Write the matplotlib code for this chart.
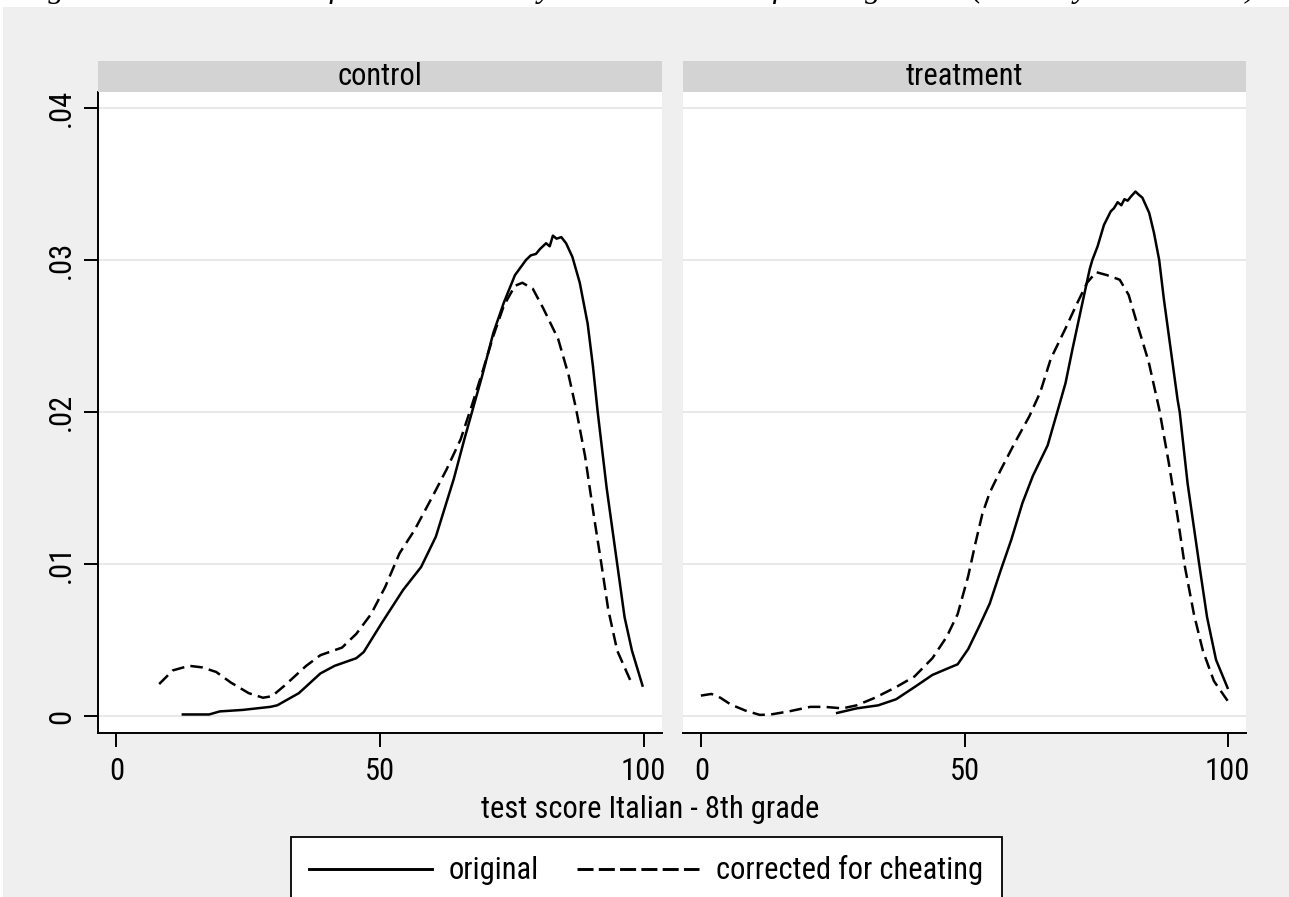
import numpy as np
import matplotlib.pyplot as plt
import matplotlib.patches as mpatches
from matplotlib.lines import Line2D
from matplotlib import font_manager

# Stata look: narrow sans if we have one
installed = {f.name for f in font_manager.fontManager.ttflist}
if 'Liberation Sans Narrow' in installed:
    FONT, FS = 'Liberation Sans Narrow', 23
elif 'Roboto Condensed' in installed:
    FONT, FS = 'Roboto Condensed', 22
else:
    FONT, FS = 'Liberation Sans', 19.5
plt.rcParams['font.family'] = [FONT, 'DejaVu Sans']

# values (density of test score)
panels = ['control', 'treatment']

ctrl_orig_x = [12.6, 17.6, 19.6, 24.0, 29.2, 30.5, 34.6, 38.7, 41.4, 45.5, 46.9, 50.3, 54.4, 57.8,
               60.6, 64.0, 66.0, 68.1, 69.4, 71.5, 73.5, 75.6, 77.7, 78.6, 79.6, 80.3, 81.5, 82.2,
               82.8, 83.5, 84.4, 85.3, 86.5, 87.9, 89.4, 90.4, 91.3, 93.0, 95.0, 96.4, 97.8, 99.8]
ctrl_orig_y = [0.0001, 0.0001, 0.0003, 0.0004, 0.0006, 0.0007, 0.0015, 0.0028, 0.0033, 0.0038,
               0.0042, 0.0061, 0.0083, 0.0098, 0.0118, 0.0156, 0.0182, 0.0208, 0.0224, 0.0252,
               0.0272, 0.0290, 0.0300, 0.0303, 0.0304, 0.0307, 0.0311, 0.0309, 0.0316, 0.0314,
               0.0315, 0.0311, 0.0302, 0.0285, 0.0258, 0.0230, 0.0200, 0.0150, 0.0100, 0.0065,
               0.0043, 0.0020]

ctrl_corr_x = [8.1, 10.7, 13.8, 16.2, 18.9, 21.7, 25.1, 27.8, 29.5, 31.9, 36.0, 38.7, 42.8, 45.5,
               48.3, 51.0, 53.7, 56.5, 59.9, 62.6, 65.3, 67.4, 69.4, 71.5, 73.5, 75.6, 77.0, 79.0,
               81.0, 83.8, 85.8, 87.2, 88.9, 90.6, 92.0, 93.3, 95.0, 97.8]
ctrl_corr_y = [0.0021, 0.0030, 0.0033, 0.0032, 0.0029, 0.0022, 0.0015, 0.0012, 0.0013, 0.0020,
               0.0033, 0.0040, 0.0045, 0.0054, 0.0067, 0.0085, 0.0107, 0.0122, 0.0144, 0.0162,
               0.0182, 0.0204, 0.0226, 0.0250, 0.0270, 0.0283, 0.0285, 0.0281, 0.0268, 0.0248,
               0.0224, 0.0202, 0.0171, 0.0131, 0.0100, 0.0070, 0.0043, 0.0021]

treat_orig_x = [25.8, 29.5, 33.6, 37.0, 40.5, 43.9, 47.3, 48.7, 50.7, 52.8, 54.8, 56.9, 58.9, 61.0,
                63.0, 65.8, 67.8, 69.2, 70.5, 72.3, 73.8, 74.3, 75.3, 76.5, 77.8, 78.4, 79.1, 79.8,
                80.4, 81.0, 81.7, 82.5, 83.1, 83.8, 85.1, 86.0, 87.0, 87.9, 89.2, 90.5, 90.9, 92.4,
                94.6, 96.1, 97.8, 100.0]
treat_orig_y = [0.0002, 0.0005, 0.0007, 0.0011, 0.0019, 0.0027, 0.0032, 0.0034, 0.0044, 0.0059,
                0.0074, 0.0096, 0.0116, 0.0140, 0.0158, 0.0178, 0.0202, 0.0219, 0.0241, 0.0270,
                0.0294, 0.0300, 0.0309, 0.0323, 0.0332, 0.0334, 0.0338, 0.0336, 0.0340, 0.0339,
                0.0342, 0.0345, 0.0343, 0.0341, 0.0331, 0.0318, 0.0300, 0.0274, 0.0241, 0.0208,
                0.0200, 0.0153, 0.0100, 0.0065, 0.0037, 0.00185]

treat_corr_x = [-0.1, 1.9, 3.6, 5.6, 8.4, 11.1, 13.2, 16.6, 20.7, 23.4, 26.8, 29.5, 33.0, 37.0,
                40.5, 43.9, 46.6, 48.7, 50.7, 52.1, 53.4, 54.8, 56.9, 59.6, 62.3, 64.4, 66.4, 69.2,
                71.2, 73.3, 75.0, 77.1, 79.5, 81.2, 82.9, 85.0, 87.0, 88.8, 90.5, 91.9, 93.6, 95.3,
                97.4, 100.0]
treat_corr_y = [0.00134, 0.00145, 0.0012, 0.00075, 0.00035, 0.00007, 0.0001, 0.0003, 0.0006, 0.0006,
                0.0005, 0.0007, 0.0012, 0.0019, 0.0026, 0.0038, 0.0052, 0.0067, 0.0092, 0.0114,
                0.0133, 0.0147, 0.0162, 0.0180, 0.0197, 0.0213, 0.0235, 0.0255, 0.0270, 0.0285,
                0.0292, 0.0290, 0.0287, 0.0277, 0.0257, 0.0233, 0.0202, 0.0167, 0.0131, 0.0098,
                0.0067, 0.0043, 0.0023, 0.0010]

series_labels = ['original', 'corrected for cheating']
yticks = [0, 0.01, 0.02, 0.03, 0.04]
ytick_labels = ['0', '.01', '.02', '.03', '.04']
xticks = [0, 50, 100]

W, H = 1289, 897
BG = '#efefef'
fig = plt.figure(figsize=(W / 100, H / 100), dpi=100)
fig.patch.set_facecolor('white')
fig.patches.append(mpatches.Rectangle((3 / W, 0), 1, 1 - 7 / H, transform=fig.transFigure,
                                      facecolor=BG, edgecolor='none', zorder=-10))

# caption sits above the crop, only its descenders show
fig.text(20 / W, 1 + 3 / H,
         'Figure 4: Distribution of the test score by treatment status for the grade 8 (school year 2009-10)',
         ha='left', va='baseline', fontsize=23, style='italic', family='Liberation Serif')

LW = 1.8
dash = (5, 2.5)
lefts = [98, 683]
widths = [564, 563]
data = [(ctrl_orig_x, ctrl_orig_y, ctrl_corr_x, ctrl_corr_y),
        (treat_orig_x, treat_orig_y, treat_corr_x, treat_corr_y)]

for i, name in enumerate(panels):
    ax = fig.add_axes([lefts[i] / W, (H - 733) / H, widths[i] / W, 641 / H])
    ox, oy, cx, cy = data[i]
    ax.plot(ox, oy, color='black', lw=LW, solid_joinstyle='round')
    ax.plot(cx, cy, color='black', lw=LW, linestyle=(0, dash))
    ax.set_xlim(-3.5, 103.5)
    ax.set_ylim(-0.00112, 0.04105)
    ax.set_facecolor('white')
    for y in yticks:
        ax.axhline(y, color='#e6e6e6', lw=1.3, zorder=0)
    for s in ['top', 'right']:
        ax.spines[s].set_visible(False)
    ax.spines['bottom'].set_linewidth(1.4)
    ax.spines['left'].set_linewidth(1.4)
    ax.set_xticks(xticks)
    ax.set_xticklabels([str(t) for t in xticks])
    ax.tick_params(axis='x', length=10, width=1.4, labelsize=FS, pad=7)
    if i == 0:
        ax.set_yticks(yticks)
        ax.set_yticklabels(ytick_labels, rotation=90, va='center')
        ax.tick_params(axis='y', length=10, width=1.4, labelsize=FS, pad=6)
    else:
        ax.spines['left'].set_visible(False)
        ax.set_yticks([])

    # header strip
    sax = fig.add_axes([lefts[i] / W, (H - 92) / H, widths[i] / W, 31 / H])
    sax.set_facecolor('#d3d3d3')
    sax.set_xticks([]); sax.set_yticks([])
    for s in sax.spines.values():
        s.set_visible(False)
    sax.text(0.5, 0.5, name, ha='center', va='center', fontsize=FS, transform=sax.transAxes)

fig.text(650 / W, 1 - 809 / H, 'test score Italian - 8th grade', ha='center', va='center', fontsize=FS)

handles = [Line2D([], [], color='black', lw=2.1),
           Line2D([], [], color='black', lw=2.1, linestyle=(0, (5.5, 1.8)))]
leg = fig.legend(handles, series_labels, loc='upper left', bbox_to_anchor=(291 / W, 1 - 837 / H),
                 ncol=2, fontsize=FS, frameon=True, fancybox=False, edgecolor='black',
                 handlelength=4.0, handletextpad=0.56, columnspacing=1.25, borderpad=0.6,
                 borderaxespad=0)
leg.get_frame().set_linewidth(1.3)
leg.get_frame().set_facecolor('white')
leg.get_frame().set_alpha(1)

plt.savefig('out.png', dpi=100, facecolor=fig.get_facecolor())
